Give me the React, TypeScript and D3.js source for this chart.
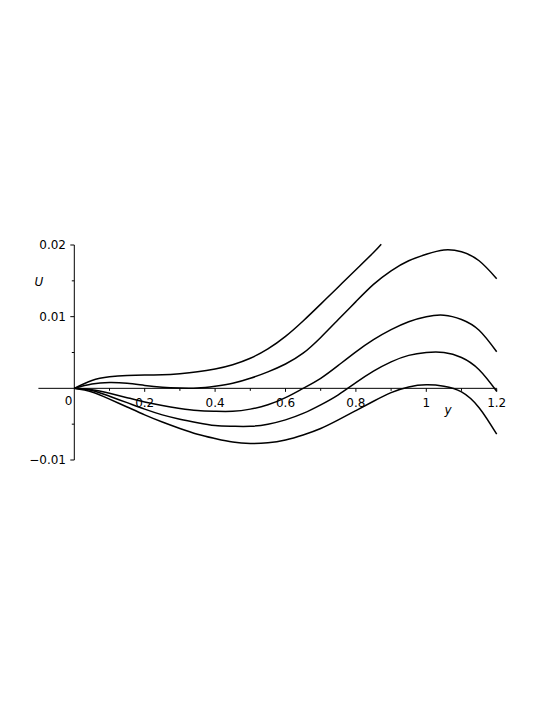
import React from "react";
import * as d3 from "d3";

const xGrid = [0, 0.05, 0.1, 0.15, 0.2, 0.25, 0.3, 0.35, 0.4, 0.45, 0.5, 0.55, 0.6, 0.65, 0.7, 0.75, 0.8, 0.85, 0.9, 0.95, 1.0, 1.05, 1.1, 1.15, 1.2];

const curve1X = [0, 0.05, 0.1, 0.15, 0.2, 0.25, 0.3, 0.35, 0.4, 0.45, 0.5, 0.55, 0.6, 0.65, 0.7, 0.75, 0.8, 0.85, 0.872];
const curve1U = [0, 0.0011, 0.0016, 0.0018, 0.00187, 0.0019, 0.00205, 0.0023, 0.0027, 0.0033, 0.0042, 0.0055, 0.00725, 0.0094, 0.01175, 0.01415, 0.01655, 0.01895, 0.0201];
const curve2U = [0, 0.0006, 0.0008, 0.0007, 0.0004, 0.00015, 0.00004, 0.00005, 0.0003, 0.0007, 0.0014, 0.0023, 0.0034, 0.0049, 0.0071, 0.0096, 0.0121, 0.0145, 0.0164, 0.0178, 0.0187, 0.0193, 0.01905, 0.0178, 0.0153];
const curve3U = [0, -0.0002, -0.0007, -0.0013, -0.0019, -0.0024, -0.0028, -0.0031, -0.0032, -0.0032, -0.0029, -0.0023, -0.0013, 0.0, 0.0014, 0.0032, 0.0051, 0.0068, 0.0082, 0.0093, 0.01, 0.0102, 0.0096, 0.0081, 0.0051];
const curve4U = [0, -0.0003, -0.0011, -0.002, -0.0029, -0.0037, -0.0043, -0.0048, -0.0052, -0.0053, -0.0053, -0.005, -0.0044, -0.0035, -0.0023, -0.0009, 0.0008, 0.0024, 0.0037, 0.0046, 0.005, 0.005, 0.0043, 0.0026, -0.0004];
const curve5U = [0, -0.0005, -0.0015, -0.0026, -0.0037, -0.0047, -0.0056, -0.0064, -0.007, -0.0075, -0.0077, -0.0076, -0.0072, -0.0065, -0.0056, -0.0044, -0.0031, -0.0018, -0.0006, 0.0002, 0.0005, 0.0003, -0.0005, -0.0027, -0.0064];

const xMajorTicks = [0.2, 0.4, 0.6, 0.8, 1, 1.2];
const xMajorLabels = ["0.2", "0.4", "0.6", "0.8", "1", "1.2"];
const xMinorTicks = [0.1, 0.3, 0.5, 0.7, 0.9, 1.1];
const yMajorTicks = [0.02, 0.01, -0.01];
const yMajorLabels = ["0.02", "0.01", "\u22120.01"];
const yMinorTicks = [0.015, 0.005, -0.005];

const W = 545;
const H = 705;
const font = "DejaVu Sans, sans-serif";

export default function App() {
  const x = d3.scaleLinear().domain([0, 1.2]).range([74.3, 496.7]);
  const y = d3.scaleLinear().domain([-0.01, 0.02]).range([460, 245]);

  const line = d3
    .line<[number, number]>()
    .x((d) => x(d[0]))
    .y((d) => y(d[1]))
    .curve(d3.curveNatural);

  const series: [number, number][][] = [
    curve1X.map((v, i) => [v, curve1U[i]] as [number, number]),
    xGrid.map((v, i) => [v, curve2U[i]] as [number, number]),
    xGrid.map((v, i) => [v, curve3U[i]] as [number, number]),
    xGrid.map((v, i) => [v, curve4U[i]] as [number, number]),
    xGrid.map((v, i) => [v, curve5U[i]] as [number, number]),
  ];

  const y0 = y(0);
  const xAxisStart = x(-0.102);

  return (
    <svg
      width={W}
      height={H}
      viewBox={`0 0 ${W} ${H}`}
      style={{ position: "absolute", left: 0, top: 0, background: "#fff" }}
    >
      <rect x={0} y={0} width={W} height={H} fill="#fff" />
      {/* x axis */}
      <line x1={xAxisStart} x2={x(1.2)} y1={y0} y2={y0} stroke="#000" strokeWidth={1} />
      {xMajorTicks.map((t) => (
        <line key={"xM" + t} x1={x(t)} x2={x(t)} y1={y0} y2={y0 + 3.5} stroke="#000" strokeWidth={1} />
      ))}
      {xMinorTicks.map((t) => (
        <line key={"xm" + t} x1={x(t)} x2={x(t)} y1={y0} y2={y0 + 2.5} stroke="#000" strokeWidth={1} />
      ))}
      {xMajorTicks.map((t, i) => (
        <text key={"xl" + t} x={x(t)} y={407} fontFamily={font} fontSize={12} textAnchor="middle" fill="#000">
          {xMajorLabels[i]}
        </text>
      ))}
      <text x={x(0) - 2} y={405} fontFamily={font} fontSize={12} textAnchor="end" fill="#000">
        0
      </text>
      {/* y axis */}
      <line x1={x(0)} x2={x(0)} y1={y(0.02)} y2={y(-0.01)} stroke="#000" strokeWidth={1} />
      {yMajorTicks.map((t) => (
        <line key={"yM" + t} x1={x(0) - 4} x2={x(0)} y1={y(t)} y2={y(t)} stroke="#000" strokeWidth={1} />
      ))}
      {yMinorTicks.map((t) => (
        <line key={"ym" + t} x1={x(0) - 2.5} x2={x(0)} y1={y(t)} y2={y(t)} stroke="#000" strokeWidth={1} />
      ))}
      {yMajorTicks.map((t, i) => (
        <text key={"yl" + t} x={66} y={y(t) + 4.3} fontFamily={font} fontSize={12} textAnchor="end" fill="#000">
          {yMajorLabels[i]}
        </text>
      ))}
      <text x={39} y={286} fontFamily={font} fontSize={12} fontStyle="italic" textAnchor="middle" fill="#000">
        U
      </text>
      <text x={448} y={414} fontFamily={font} fontSize={12} fontStyle="italic" textAnchor="middle" fill="#000">
        y
      </text>
      {/* curves */}
      {series.map((s, i) => (
        <path key={"c" + i} d={line(s) || ""} fill="none" stroke="#000" strokeWidth={1.5} />
      ))}
    </svg>
  );
}
